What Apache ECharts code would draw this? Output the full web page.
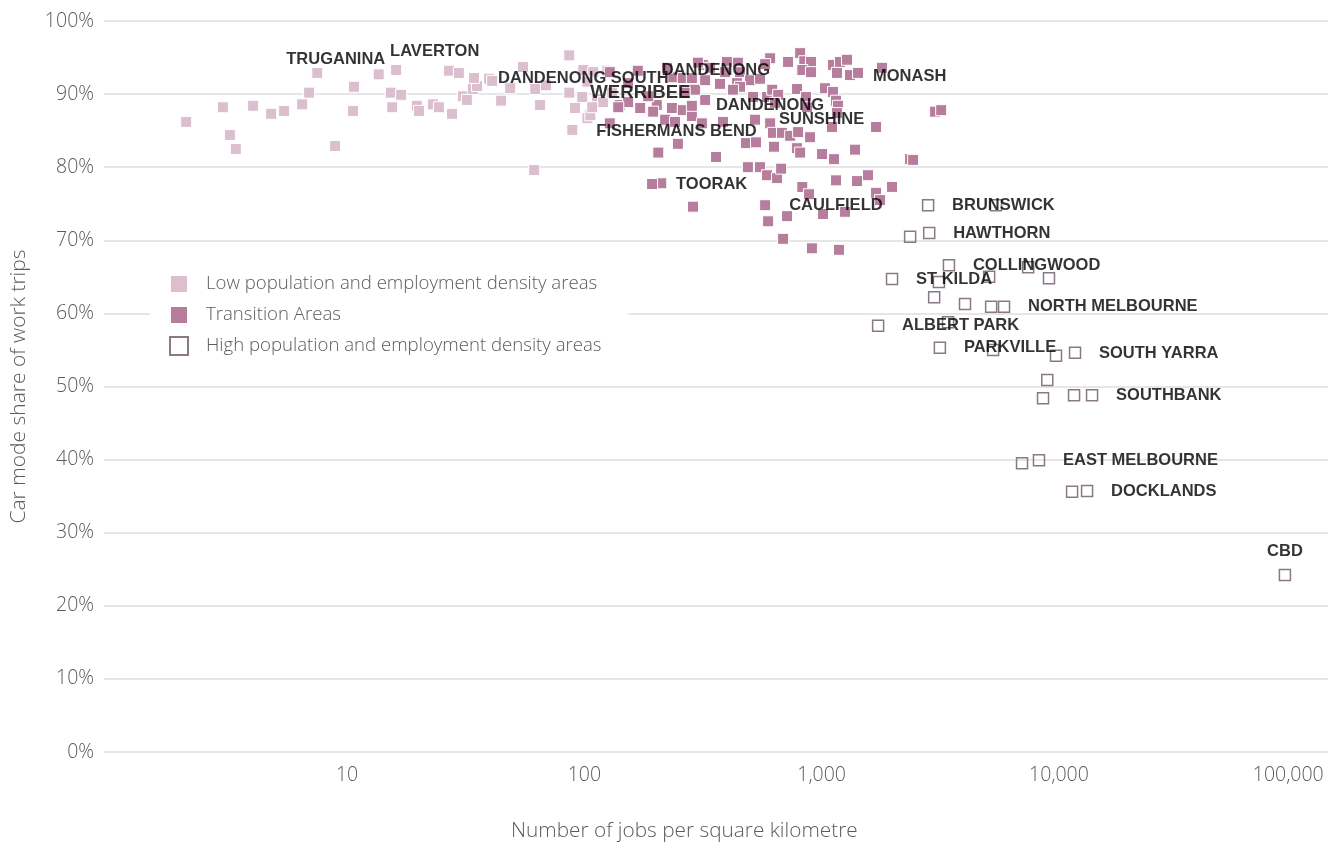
<!DOCTYPE html>
<html>
<head>
<meta charset="utf-8">
<title>Car mode share of work trips vs job density</title>
<script src="https://cdn.jsdelivr.net/npm/echarts@6/dist/echarts.min.js"></script>
<style>
  html, body { margin: 0; padding: 0; background: #ffffff; }
  #chart { width: 1328px; height: 847px; }
</style>
</head>
<body>
<div id="chart"></div>
<script>
// Each point: [jobs per square kilometre, car mode share of work trips (%)]
const lowDensityAreas = [
  [2.1, 86.2], [3.0, 88.2], [3.21, 84.4], [3.4, 82.5], [4.02, 88.4], [4.79, 87.3],
  [5.43, 87.7], [6.47, 88.6], [6.92, 90.2], [7.49, 92.9], [8.91, 82.9], [10.6, 87.7],
  [10.7, 91.0], [13.6, 92.7], [15.3, 90.2], [15.5, 88.2], [16.1, 93.3], [16.9, 89.9],
  [19.7, 88.4], [20.1, 87.7], [23.0, 88.6], [24.4, 88.2], [26.9, 93.2], [29.6, 92.9],
  [27.7, 87.3], [30.8, 89.7], [32.0, 89.2], [33.9, 90.7], [35.3, 91.1], [39.7, 92.1],
  [40.9, 91.8], [44.6, 89.1], [48.7, 90.8], [55.2, 93.7], [62.1, 90.7], [65.1, 88.5],
  [69.0, 91.2], [86.4, 95.3], [86.4, 90.2], [98.0, 89.6], [91.4, 88.1], [103, 86.7],
  [106, 87.1], [89, 85.1], [61.5, 79.6], [99, 93.3], [109, 93.0], [125, 93.2],
  [113, 89.3], [120, 88.9], [108, 88.2], [131, 90.2], [103, 91.7], [34.3, 92.2]
];

const transitionAreas = [
  [128, 93.0], [153, 91.5], [141, 88.5], [153, 88.9], [172, 88.1], [202, 88.5],
  [234, 88.1], [260, 87.8], [284, 87.0], [313, 86.0], [323, 89.2], [237, 92.3],
  [260, 92.2], [284, 92.2], [293, 90.6], [219, 86.5], [241, 86.2], [248, 83.2],
  [205, 82.0], [128, 86.0], [139, 88.2], [223, 93.6], [316, 94.0], [195, 87.6],
  [186, 89.7], [265, 90.2], [301, 94.3], [339, 93.6], [399, 94.4], [444, 94.3],
  [392, 93.0], [453, 93.0], [607, 94.9], [722, 94.4], [812, 95.6], [845, 94.5],
  [902, 94.4], [829, 93.3], [902, 93.0], [1117, 94.0], [1195, 94.4], [1279, 94.7],
  [1161, 92.9], [1317, 92.6], [1424, 92.9], [1796, 93.6], [323, 91.9], [373, 91.4],
  [440, 91.5], [499, 91.9], [550, 92.1], [453, 91.0], [423, 90.6], [514, 89.6],
  [589, 89.6], [619, 90.6], [656, 89.9], [788, 90.7], [860, 89.6], [1034, 90.8],
  [1117, 90.3], [1150, 89.1], [1172, 88.4], [1161, 87.4], [868, 88.2], [636, 88.8],
  [384, 86.2], [607, 86.0], [624, 84.7], [681, 84.7], [737, 84.3], [796, 84.8],
  [894, 84.1], [788, 82.6], [1106, 85.5], [1696, 85.5], [3006, 87.6], [3190, 87.8],
  [480, 83.3], [529, 83.4], [630, 82.8], [359, 81.4], [1004, 81.8], [1128, 81.1],
  [1383, 82.4], [2360, 81.1], [2430, 81.0], [489, 80.0], [550, 80.0], [589, 78.9],
  [649, 78.5], [675, 79.8], [829, 77.3], [885, 76.3], [211, 77.8], [193, 77.7],
  [287, 74.6], [578, 74.8], [595, 72.6], [715, 73.3], [688, 70.2], [910, 68.9],
  [812, 82.0], [1150, 78.2], [1410, 78.1], [1568, 78.9], [1980, 77.3], [1696, 76.5],
  [1763, 75.5], [1014, 73.6], [1255, 73.9], [1184, 68.7], [578, 94.1], [168, 93.2],
  [284, 88.4], [524, 86.5]
];

const highDensityAreas = [
  [2810, 74.8], [5430, 74.8], [2360, 70.5], [2840, 71.0], [3440, 66.6], [1980, 64.7],
  [3120, 64.3], [5080, 65.0], [7420, 66.3], [9080, 64.8], [2980, 62.2], [4020, 61.3],
  [5180, 60.9], [5870, 60.9], [1730, 58.3], [3410, 58.8], [3150, 55.3], [5280, 55.0],
  [9720, 54.2], [11690, 54.6], [8930, 50.9], [8570, 48.4], [11580, 48.8], [13790, 48.8],
  [6990, 39.5], [8240, 39.9], [11360, 35.6], [13140, 35.7], [89600, 24.2]
];

// Named places: [name, jobs per km², car share %]
const placeNames = [
  ['BRUNSWICK', 2810, 74.8], ['HAWTHORN', 2840, 71.0], ['COLLINGWOOD', 3440, 66.6],
  ['ST KILDA', 1980, 64.7], ['NORTH MELBOURNE', 5870, 60.9], ['ALBERT PARK', 1730, 58.3],
  ['PARKVILLE', 3150, 55.3], ['SOUTH YARRA', 11690, 54.6], ['SOUTHBANK', 13790, 48.8],
  ['EAST MELBOURNE', 8240, 39.9], ['DOCKLANDS', 13140, 35.7], ['CBD', 89600, 24.2],
  ['CAULFIELD', 578, 74.8], ['TOORAK', 193, 77.7], ['MONASH', 1317, 92.6],
  ['SUNSHINE', 524, 86.5], ['DANDENONG', 284, 88.4], ['DANDENONG', 168, 93.2],
  ['DANDENONG SOUTH', 34.3, 92.2], ['WERRIBEE', 86.4, 90.2], ['FISHERMANS BEND', 89, 85.1],
  ['TRUGANINA', 7.49, 92.9], ['LAVERTON', 16.1, 93.3]
];

const seriesNames = [
  'Low population and employment density areas',
  'Transition Areas',
  'High population and employment density areas'
];

const xTickLabels = { 1: '10', 2: '100', 3: '1,000', 4: '10,000', 5: '100,000' };
const yTickSuffix = '%';

// Label placement per place (offset from the point, in pixels)
const labelPlacement = {
  'CBD': { align: 'center', offset: [0, -24] },
  'MONASH': { offset: [23, 1] },
  'SOUTH YARRA': { offset: [24, 1] },
  'FISHERMANS BEND': { offset: [24, 2] },
  'WERRIBEE': { offset: [21, 0], fontSize: 18.6 },
  'TRUGANINA': { offset: [-31, -13] },
  'LAVERTON': { offset: [-6, -19] }
};

const lightFont = 'Open Sans';
const textGrey = '#5b5b5b';
const lowColor = '#dbbfcf';
const transitionColor = '#b67d9d';
const highStroke = '#8a7885';

const chart = echarts.init(document.getElementById('chart'), null, { renderer: 'canvas' });

const tickText = { fontFamily: lightFont, fontWeight: 300, fontSize: 19.5, color: textGrey };

const option = {
  backgroundColor: '#ffffff',
  animation: false,
  title: {
    text: 'Number of jobs per square kilometre',
    left: 511,
    top: 821,
    padding: 0,
    textStyle: { fontFamily: lightFont, fontWeight: 300, fontSize: 20.8, color: textGrey }
  },
  grid: { left: 104, right: 0, top: 21, bottom: 95, containLabel: false, outerBoundsMode: 'none' },
  legend: {
    orient: 'vertical',
    left: 150,
    top: 268,
    padding: [6, 27, 6, 19],
    backgroundColor: '#ffffff',
    itemWidth: 18,
    itemHeight: 18,
    itemGap: 11,
    icon: 'rect',
    data: seriesNames,
    textStyle: {
      fontFamily: lightFont, fontWeight: 300, fontSize: 18.6, lineHeight: 18,
      color: textGrey, padding: [0, 0, 0, 13]
    }
  },
  xAxis: {
    type: 'log',
    logBase: 10,
    min: 0.946,
    max: 136100,
    axisLine: { show: false },
    axisTick: { show: false },
    splitLine: { show: false },
    axisLabel: Object.assign({
      margin: 13,
      showMinLabel: false,
      showMaxLabel: false,
      // the last decade label is nudged left so it stays inside the canvas
      rich: { edge: Object.assign({ padding: [0, 16, 0, 0] }, tickText) },
      formatter: function (v) {
        const p = Math.log10(v);
        const r = Math.round(p);
        if (Math.abs(p - r) < 1e-6 && xTickLabels[r]) {
          return r === 5 ? '{edge|' + xTickLabels[r] + '}' : xTickLabels[r];
        }
        return '';
      }
    }, tickText)
  },
  yAxis: {
    type: 'value',
    min: 0,
    max: 100,
    interval: 10,
    name: 'Car mode share of work trips',
    nameLocation: 'middle',
    nameGap: 74,
    nameTextStyle: { fontFamily: lightFont, fontWeight: 300, fontSize: 21, color: textGrey },
    axisLine: { show: false },
    axisTick: { show: false },
    axisLabel: Object.assign({
      margin: 10,
      formatter: function (v) { return v + yTickSuffix; }
    }, tickText),
    splitLine: { lineStyle: { color: '#dedede', width: 1.5 } }
  },
  series: [
    {
      name: seriesNames[0],
      type: 'scatter',
      symbol: 'rect',
      symbolSize: 11,
      data: lowDensityAreas,
      itemStyle: { color: lowColor, borderColor: '#ffffff', borderWidth: 1, opacity: 1 },
      z: 2
    },
    {
      name: seriesNames[1],
      type: 'scatter',
      symbol: 'rect',
      symbolSize: 11,
      data: transitionAreas,
      itemStyle: { color: transitionColor, borderColor: '#ffffff', borderWidth: 1, opacity: 1 },
      z: 3
    },
    {
      name: seriesNames[2],
      type: 'scatter',
      symbol: 'rect',
      symbolSize: 11,
      data: highDensityAreas,
      itemStyle: { color: 'rgba(255,255,255,0)', borderColor: highStroke, borderWidth: 1.5, opacity: 1 },
      z: 4
    },
    {
      name: 'places',
      type: 'scatter',
      symbol: 'rect',
      symbolSize: 1,
      silent: true,
      z: 6,
      itemStyle: { color: 'rgba(0,0,0,0)' },
      data: placeNames.map(function (p) {
        const extra = labelPlacement[p[0]] || {};
        return { name: p[0], value: [p[1], p[2]], label: extra };
      }),
      label: {
        show: true,
        position: 'inside',
        align: 'left',
        verticalAlign: 'middle',
        offset: [24, 0],
        formatter: function (p) { return p.name; },
        fontFamily: 'Liberation Sans',
        fontWeight: 'bold',
        fontSize: 16.5,
        color: '#000000'
      }
    }
  ]
};

chart.setOption(option);
</script>
</body>
</html>
